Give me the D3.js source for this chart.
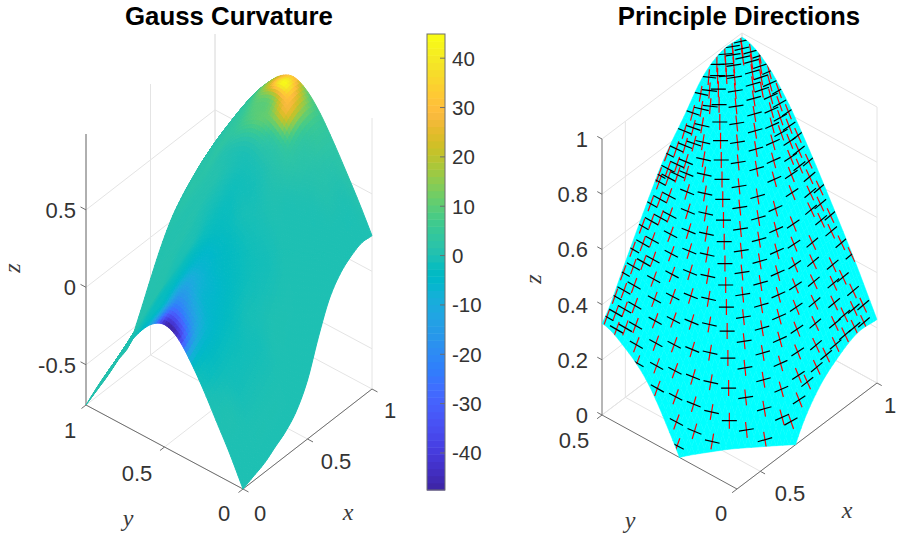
<!DOCTYPE html>
<html><head><meta charset="utf-8"><style>html,body{margin:0;background:#fff}svg{display:block}</style>
<script src="https://cdnjs.cloudflare.com/ajax/libs/d3/7.8.5/d3.min.js"></script></head><body><div id="c"></div>
<script>
// ---- data ----
const gridX = [0,1/12,2/12,3/12,4/12,5/12,6/12,7/12,8/12,9/12,10/12,11/12,1];
const gridY = [0,1/12,2/12,3/12,4/12,5/12,6/12,7/12,8/12,9/12,10/12,11/12,1];
const surfaceZ = [
[-.76,-.58,-.42,-.26,-.12,-.01,.03,-.013,-.116,-.258,-.416,-.581,-.76],
[-.73,-.545,-.373,-.209,-.062,.045,.09,.045,-.06,-.206,-.368,-.537,-.72],
[-.70,-.506,-.326,-.154,.001,.113,.16,.114,.005,-.147,-.315,-.49,-.68],
[-.65,-.45,-.24,-.06,.09,.18,.23,.183,.071,-.084,-.256,-.436,-.63],
[-.60,-.38,-.157,.019,.157,.232,.28,.232,.119,-.038,-.212,-.393,-.59],
[-.52,-.30,-.08,.09,.23,.31,.35,.307,.204,.062,-.096,-.261,-.44],
[-.38,-.16,.06,.23,.37,.45,.49,.448,.349,.213,.061,-.098,-.27],
[-.16,.04,.24,.40,.52,.59,.63,.589,.493,.36,.212,.057,-.11],
[.03,.20,.36,.50,.63,.72,.76,.719,.623,.49,.342,.187,.02],
[.14,.302,.451,.594,.723,.816,.855,.814,.717,.583,.434,.278,.11],
[.20,.37,.526,.676,.811,.909,.95,.908,.808,.669,.515,.354,.18],
[.235,.406,.563,.714,.85,.948,.99,.949,.851,.716,.566,.41,.24],
[.23,.401,.558,.709,.845,.943,.985,.946,.853,.724,.581,.432,.27]];
const curvature = [
[0,0,0,-1,-7,-44,-46,-11,-2,0,1,1,1],
[0,0,0,-2,-6,-20,-24,-5,-2,0,1,1,1],
[0,0,-1,-2,-5,-8,-13,-4,-2,0,1,1,1],
[0,0,-1,-2,-4,-6,-7,-3,-1,0,1,1,1],
[0,0,-1,-1,-3,-4,-5,-3,-1,0,1,1,1],
[0,0,0,-1,-2,-3,-3,-2,0,0,1,1,1],
[0,0,0,-1,-1,-1,-2,-1,0,1,1,1,1],
[0,0,0,0,0,-1,-1,0,1,1,1,1,1],
[0,0,0,0,1,1,1,1,1,2,2,2,1],
[0,0,0,1,3,6,10,8,4,3,2,2,1],
[0,0,1,2,6,27,14,11,5,3,2,2,2],
[0,0,1,3,8,26,44,22,6,3,2,2,2],
[0,1,2,3,6,12,32,24,8,3,2,2,2]];
const parula = [[.2422,.1504,.6603],[.2504,.165,.7076],[.2578,.1818,.7511],[.2647,.1978,.7952],[.2706,.2147,.8364],[.2751,.2342,.871],[.2783,.2559,.8991],[.2803,.2782,.9221],[.2813,.3006,.9414],[.281,.3228,.9579],[.2795,.3447,.9717],[.276,.3667,.9829],[.2699,.3892,.9906],[.2602,.4123,.9952],[.244,.4358,.9988],[.2206,.4603,.9973],[.1963,.4847,.9892],[.1834,.5074,.9798],[.1786,.5289,.9682],[.1764,.5499,.952],[.1687,.5703,.9359],[.154,.5902,.9218],[.146,.6091,.9079],[.138,.6276,.8973],[.1248,.6459,.8883],[.1113,.6635,.8763],[.0952,.6798,.8598],[.0689,.6948,.8394],[.0297,.7082,.8163],[.0036,.7203,.7917],[.0067,.7312,.766],[.0433,.7411,.7394],[.0964,.75,.712],[.1408,.7584,.6842],[.1717,.767,.6554],[.1938,.7758,.6251],[.2161,.7843,.5923],[.247,.7918,.5567],[.2906,.7973,.5188],[.3406,.8008,.4789],[.3909,.8029,.4354],[.4456,.8024,.3909],[.5044,.7993,.348],[.5616,.7942,.3045],[.6174,.7876,.2612],[.672,.7793,.2227],[.7242,.7698,.191],[.7738,.7598,.1646],[.8203,.7498,.1535],[.8634,.7406,.1596],[.9035,.733,.1774],[.9393,.7288,.21],[.9728,.7298,.2394],[.9956,.7434,.2371],[.997,.7659,.2199],[.9952,.7893,.2028],[.9892,.8136,.1885],[.9786,.8386,.1766],[.9676,.8639,.1643],[.961,.889,.1537],[.9597,.9135,.1423],[.9628,.9373,.1265],[.9691,.9606,.1064],[.9769,.9839,.0805]];
const colorDomain = [-47.5,44.9];
const colorTicks = [-40,-30,-20,-10,0,10,20,30,40];
const leftZTicks = [-.5,0,.5], leftXTicks=[0,.5,1], leftYTicks=[0,.5,1];
const rightZTicks = [0,.2,.4,.6,.8,1], rightXTicks=[.5,1], rightYTicks=[0,.5];
// principal-direction marks: rows and columns of the marks along x+y and x-y
const crossRows = [.56,.60,.64,.68,.72,.76,.80,.84,.88,.92,.96,1.0,1.04,1.08,1.12,1.16,1.20,1.24,1.28,1.32,1.36,1.40,1.44,1.48,1.52];
const crossCols = [-.08,-.045,-.01,.03,.07,.107,.143,.179,.215,.25,.285,.32,.355,.39,.425,.457,.495,.53,.565,.60,.635,.67,.705,.745,.785,.825,.865,.905,.945,.985];
const rowTilt = -.15;
const dirV = [.075,.18,.28,.39,.48,.56,.64,.72,.88];
const blackDeg = [-30,-28,-20,0,12,18,30,40,40];
const redDeg = [70,70,75,90,98,100,110,115,115];

const W=897,H=533;
const svg=d3.select('#c').append('svg').attr('width',W).attr('height',H).attr('viewBox',`0 0 ${W} ${H}`);
svg.append('rect').attr('width',W).attr('height',H).attr('fill','#fff');
const AX='#6e6e6e',GR='#e4e4e4',TX='#333333',SANS='"Liberation Sans",Arial,sans-serif',SERIF='"Liberation Serif",serif';

// bicubic read-through of the tables (drawing mesh only)
function cr(a,b,c,d,t){return .5*((2*b)+(c-a)*t+(2*a-5*b+4*c-d)*t*t+(3*b-a-3*c+d)*t*t*t);}
function sample(T,x,y){
  const n=12,fx=Math.min(x*n,n-1e-9),fy=Math.min(y*n,n-1e-9),i=Math.floor(fx),j=Math.floor(fy),tx=fx-i,ty=fy-j;
  const g=(a,b)=>{const A=Math.max(0,Math.min(n,a)),B=Math.max(0,Math.min(n,b));
    let v=T[A][B]; if(a<0)v+=T[A][B]-T[1][B]; if(a>n)v+=T[n][B]-T[n-1][B];
    if(b<0)v+=T[A][B]-T[A][1]; if(b>n)v+=T[A][n]-T[A][n-1]; return v;};
  const r=[];for(let k=-1;k<=2;k++)r.push(cr(g(i+k,j-1),g(i+k,j),g(i+k,j+1),g(i+k,j+2),ty));
  return cr(r[0],r[1],r[2],r[3],tx);
}
const zAt=(x,y)=>sample(surfaceZ,x,y), kAt=(x,y)=>sample(curvature,x,y);
const smoothColor=d3.scaleLinear().domain(parula.map((c,i)=>colorDomain[0]+(colorDomain[1]-colorDomain[0])*i/63)).range(parula.map(c=>d3.rgb(c[0]*255,c[1]*255,c[2]*255).formatHex())).clamp(true);

function panel(c){
  const xH=d3.scaleLinear().domain(c.xd).range([0,c.right[0]-c.front[0]]),
        xV=d3.scaleLinear().domain(c.xd).range([0,c.right[1]-c.front[1]]),
        yH=d3.scaleLinear().domain(c.yd).range([0,c.left[0]-c.front[0]]),
        yV=d3.scaleLinear().domain(c.yd).range([0,c.left[1]-c.front[1]]),
        zS=d3.scaleLinear().domain(c.zd).range([0,-c.zpx]);
  const P=(x,y,z)=>[c.front[0]+xH(x)+yH(y),c.front[1]+xV(x)+yV(y)+zS(z)];
  const g=svg.append('g');
  const ln=(a,b,col,w=1)=>g.append('line').attr('x1',a[0]).attr('y1',a[1]).attr('x2',b[0]).attr('y2',b[1]).attr('stroke',col).attr('stroke-width',w);
  const [x0,x1]=c.xd,[y0,y1]=c.yd,[z0,z1]=c.zd;
  c.zt.forEach(z=>{ln(P(x0,y1,z),P(x1,y1,z),GR);ln(P(x1,y1,z),P(x1,y0,z),GR);});
  c.xt.forEach(x=>{ln(P(x,y0,z0),P(x,y1,z0),GR);ln(P(x,y1,z0),P(x,y1,z1),GR);});
  c.yt.forEach(y=>{ln(P(x0,y,z0),P(x1,y,z0),GR);ln(P(x1,y,z0),P(x1,y,z1),GR);});
  ln(P(x0,y0,z0),P(x1,y0,z0),AX);ln(P(x0,y0,z0),P(x0,y1,z0),AX);ln(P(x0,y1,z0),P(x0,y1,z1),AX);
  const tx=(x1-x0)*.035,ty=(y1-y0)*.035;
  c.xt.forEach(x=>ln(P(x,y0,z0),P(x,y0-ty,z0),AX));
  c.yt.forEach(y=>ln(P(x0,y,z0),P(x0-tx,y,z0),AX));
  c.zt.forEach(z=>ln(P(x0,y1,z),P(x0,y1+ty,z),AX));
  return {P,g,xd:c.xd,yd:c.yd,zd:c.zd};
}
function text(s,x,y,o={}){
  const t=svg.append('text').text(s).attr('x',x).attr('y',y).attr('fill',o.fill||TX).attr('font-family',o.family||SANS)
   .attr('font-size',o.size||21).attr('text-anchor',o.anchor||'middle');
  if(o.weight)t.attr('font-weight',o.weight); if(o.italic)t.attr('font-style','italic');
  if(o.rot)t.attr('transform',`rotate(${o.rot} ${x} ${y})`);
  return t;
}
// ---------- left panel
const L=panel({front:[243,489],right:[372,389],left:[86,405],xd:[0,1],yd:[0,1],zd:[-.76,.99],zpx:271,xt:leftXTicks,yt:leftYTicks,zt:leftZTicks});
const sub=64, meshL=[];
for(let i=sub-1;i>=0;i--)for(let j=sub-1;j>=0;j--){
  const a=i/sub,b=(i+1)/sub,c=j/sub,d=(j+1)/sub;
  meshL.push({pts:[[a,c],[b,c],[b,d],[a,d]],k:kAt((a+b)/2,(c+d)/2)});
}
L.g.append('g').selectAll('path').data(meshL).join('path')
 .attr('d',m=>'M'+m.pts.map(p=>L.P(p[0],p[1],zAt(p[0],p[1])).map(v=>v.toFixed(2)).join(',')).join('L')+'Z')
 .attr('fill',m=>smoothColor(m.k)).attr('stroke',m=>smoothColor(m.k)).attr('stroke-width',1).attr('stroke-linejoin','round');
// ---------- right panel
const R=panel({front:[737,489],right:[877,383],left:[602,415],xd:[.4,1],yd:[0,.5],zd:[0,1],zpx:276,xt:rightXTicks,yt:rightYTicks,zt:rightZTicks});
const nx=48,ny=40,polys=[];
for(let i=nx-1;i>=0;i--)for(let j=ny-1;j>=0;j--){
  const a=.4+.6*i/nx,b=.4+.6*(i+1)/nx,c=.5*j/ny,d=.5*(j+1)/ny;
  const q=[[a,c],[b,c],[b,d],[a,d]].map(p=>[p[0],p[1],zAt(p[0],p[1])]);
  const out=[];
  q.forEach((p,k)=>{const n=q[(k+1)%4];
    if(p[2]>=0)out.push(p);
    if((p[2]>=0)!==(n[2]>=0)){const t=p[2]/(p[2]-n[2]);out.push([p[0]+t*(n[0]-p[0]),p[1]+t*(n[1]-p[1]),0]);}});
  if(out.length>2)polys.push(out);
}
const dOf=o=>'M'+o.map(p=>R.P(p[0],p[1],p[2]).map(v=>v.toFixed(2)).join(',')).join('L')+'Z';
R.g.append('g').selectAll('path').data(polys).join('path').attr('d',dOf).attr('fill','#00ffff').attr('stroke','#00ffff').attr('stroke-width',.5);
svg.append('clipPath').attr('id','surfClip').append('path').attr('d',polys.map(dOf).join(''));
const blackS=d3.scaleLinear().domain(dirV).range(blackDeg).clamp(true), redS=d3.scaleLinear().domain(dirV).range(redDeg).clamp(true);
const marks=[];
crossRows.forEach(u0=>crossCols.forEach((v,k)=>{
  const u=u0+rowTilt*(v-.39)*(u0<1.1?1:.4);
  const x=(u+v)/2,y=(u-v)/2; if(x<.402||x>.998||y<.004||y>.497)return;
  const z=zAt(x,y); if(z<.0)return;
  const dense=x>.93||y<.035||y>.43; if(k%2===0&&!dense)return;
  marks.push({x,y,z,v});
}));
const mg=R.g.append('g').attr('clip-path','url(#surfClip)');
const seg=(sel,ang,h,col)=>sel.selectAll('line.'+col).data(marks).join('line').attr('class',col)
  .attr('x1',m=>R.P(m.x,m.y,m.z)[0]-h*Math.cos(ang(m.v)*Math.PI/180)).attr('y1',m=>R.P(m.x,m.y,m.z)[1]+h*Math.sin(ang(m.v)*Math.PI/180))
  .attr('x2',m=>R.P(m.x,m.y,m.z)[0]+h*Math.cos(ang(m.v)*Math.PI/180)).attr('y2',m=>R.P(m.x,m.y,m.z)[1]-h*Math.sin(ang(m.v)*Math.PI/180))
  .attr('stroke',col).attr('stroke-width',1.2);
seg(mg,redS,8,'red'); seg(mg,blackS,7.5,'black');
// ---------- colour bar
const cb=svg.append('g'),cy=d3.scaleLinear().domain(colorDomain).range([490,34]);
cb.selectAll('rect').data(parula).join('rect').attr('x',427).attr('width',18)
 .attr('y',(c,i)=>cy(colorDomain[0]+(colorDomain[1]-colorDomain[0])*(i+1)/64)).attr('height',456/64+.5)
 .attr('fill',c=>d3.rgb(c[0]*255,c[1]*255,c[2]*255).formatHex());
cb.append('rect').attr('x',427).attr('y',34).attr('width',18).attr('height',456).attr('fill','none').attr('stroke',AX);
colorTicks.forEach(t=>{cb.append('line').attr('x1',440).attr('x2',445).attr('y1',cy(t)).attr('y2',cy(t)).attr('stroke',AX);
  text(String(t),452,cy(t)+7.5,{anchor:'start',size:20.5});});
// ---------- texts
text('Gauss Curvature',229,25,{size:25.8,weight:'bold',fill:'#000'});
text('Principle Directions',739,25,{size:25.8,weight:'bold',fill:'#000'});
leftZTicks.forEach(t=>text(String(t),76,L.P(0,1,t)[1]+8,{anchor:'end',size:22}));
text('1',70,438,{size:22});text('0.5',137,481,{size:22});text('0',224,521,{size:22});
text('0',260,521,{size:22});text('0.5',336,469,{size:22});text('1',390,418,{size:22});
rightZTicks.forEach(t=>text(String(t),588,R.P(.4,.5,t)[1]+8,{anchor:'end',size:22}));
text('0.5',574,448,{size:22});text('0',721,521,{size:22});text('0.5',790,501,{size:22});text('1',890,413,{size:22});
const lab={family:SERIF,italic:true,size:24,fill:'#3a3a3a'};
text('x',348,520,lab);text('y',128,526,lab);text('z',20,268,{...lab,rot:-90});
text('x',847,518,lab);text('y',630,528,lab);text('z',541,279,{...lab,rot:-90});
</script></body></html>
